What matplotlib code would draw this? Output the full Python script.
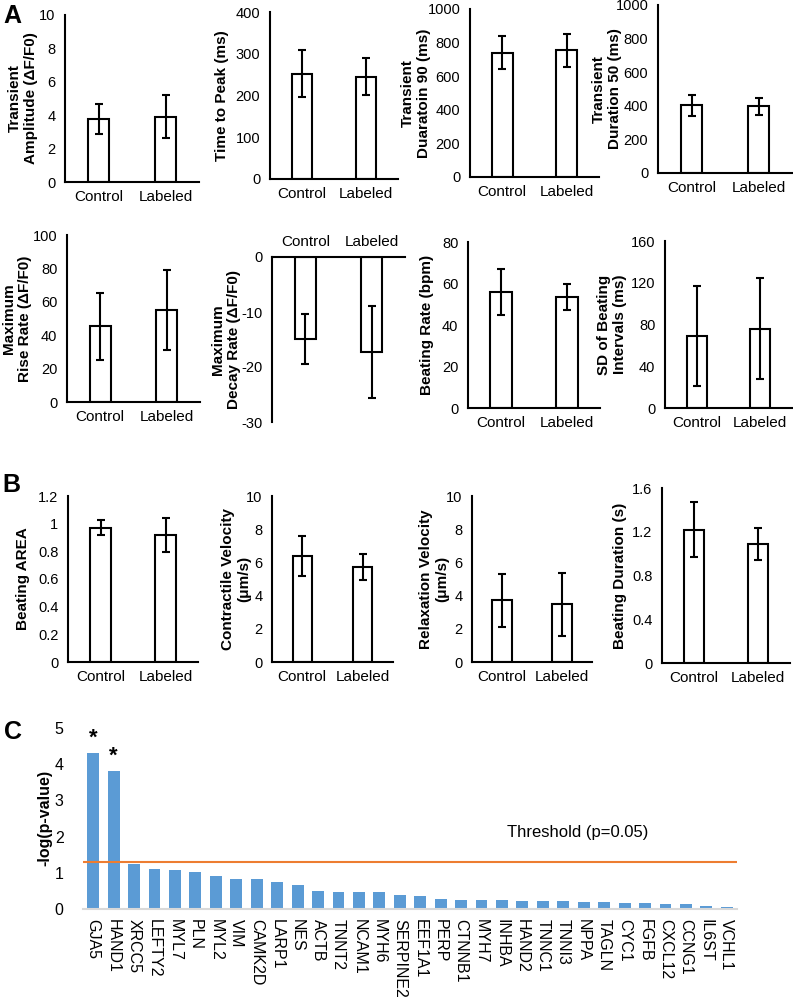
import matplotlib.pyplot as plt
import numpy as np

plt.rcParams['font.family'] = ['Liberation Sans', 'DejaVu Sans']

W, H = 793, 997

groups = ['Control', 'Labeled']

# panel A (mean, error)
amp_mean = [3.78, 3.92]
amp_err = [0.9, 1.3]
ttp_mean = [252, 245]
ttp_err = [56, 45]
d90_mean = [741, 755]
d90_err = [100, 98]
d50_mean = [402, 396]
d50_err = [62, 50]
rise_mean = [45.4, 55.0]
rise_err = [20, 24]
decay_mean = [-14.9, -17.3]
decay_err = [4.5, 8.3]
rate_mean = [56.0, 53.6]
rate_err = [11, 6.4]
sdint_mean = [68.8, 76.0]
sdint_err = [48, 48.5]

# panel B
area_mean = [0.971, 0.916]
area_err = [0.052, 0.124]
cvel_mean = [6.4, 5.72]
cvel_err = [1.2, 0.78]
rvel_mean = [3.73, 3.47]
rvel_err = [1.6, 1.9]
bdur_mean = [1.22, 1.089]
bdur_err = [0.255, 0.147]

# panel C
genes = ['GJA5', 'HAND1', 'XRCC5', 'LEFTY2', 'MYL7', 'PLN', 'MYL2', 'VIM',
         'CAMK2D', 'LARP1', 'NES', 'ACTB', 'TNNT2', 'NCAM1', 'MYH6', 'SERPINE2',
         'EEF1A1', 'PERP', 'CTNNB1', 'MYH7', 'INHBA', 'HAND2', 'TNNC1', 'TNNI3',
         'NPPA', 'TAGLN', 'CYC1', 'FGFB', 'CXCL12', 'CCNG1', 'IL6ST', 'VCHL1']
neglogp = [4.31, 3.81, 1.24, 1.10, 1.075, 1.01, 0.92, 0.84,
           0.82, 0.74, 0.65, 0.50, 0.47, 0.47, 0.46, 0.40,
           0.35, 0.28, 0.26, 0.26, 0.24, 0.22, 0.22, 0.21,
           0.20, 0.20, 0.17, 0.165, 0.13, 0.13, 0.08, 0.05]
significant = ['GJA5', 'HAND1']
threshold = 1.3

fig = plt.figure(figsize=(W / 100, H / 100), dpi=100)


def add_ax(rect):
    l, t, r, b = rect
    return fig.add_axes([l / W, 1 - b / H, (r - l) / W, (b - t) / H])


def bar_panel(rect, mean, err, ylim, step, ylabel, label_x, top_axis=False):
    ax = add_ax(rect)
    x = np.arange(len(groups))
    ax.bar(x, mean, width=0.32, color='white', edgecolor='black', linewidth=1.5, zorder=2)
    ax.errorbar(x, mean, yerr=err, fmt='none', ecolor='black', elinewidth=1.5,
                capsize=3, capthick=1.5, zorder=3)
    ax.set_xlim(-0.5, 1.5)
    ax.set_ylim(*ylim)
    ticks = np.arange(ylim[0], ylim[1] + step / 2, step)
    ax.set_yticks(ticks)
    ax.set_yticklabels([f'{round(v, 2):g}' for v in ticks], fontsize=10.5)
    ax.set_xticks(x)
    ax.set_xticklabels(groups, fontsize=11)
    ax.tick_params(axis='y', length=0, pad=7)
    ax.tick_params(axis='x', length=0, pad=6)
    for s in ['top', 'right', 'bottom', 'left']:
        ax.spines[s].set_linewidth(1.5)
    ax.spines['right'].set_visible(False)
    if top_axis:
        ax.xaxis.tick_top()
        ax.spines['bottom'].set_visible(False)
    else:
        ax.spines['top'].set_visible(False)
    l, t, r, b = rect
    fig.text(label_x / W, 1 - (t + b) / 2 / H, ylabel, rotation=90, ha='center',
             va='center', fontsize=11, fontweight='bold', multialignment='center')
    return ax


# panel A, row 1
bar_panel((65, 15, 199, 182), amp_mean, amp_err, (0, 10), 2,
          'Transient\nAmplitude (ΔF/F0)', 23)
bar_panel((270, 12, 398, 179), ttp_mean, ttp_err, (0, 400), 100,
          'Time to Peak (ms)', 222)
bar_panel((470, 9, 599, 177), d90_mean, d90_err, (0, 1000), 200,
          'Transient\nDuaratoin 90 (ms)', 416)
bar_panel((658, 5, 792, 173), d50_mean, d50_err, (0, 1000), 200,
          'Transient\nDuration 50 (ms)', 607)

# panel A, row 2
bar_panel((67, 235, 200, 402), rise_mean, rise_err, (0, 100), 20,
          'Maximum\nRise Rate (ΔF/F0)', 17)
bar_panel((272, 257, 405, 422), decay_mean, decay_err, (-30, 0), 10,
          'Maximum\nDecay Rate (ΔF/F0)', 226, top_axis=True)
bar_panel((468, 242, 600, 408), rate_mean, rate_err, (0, 80), 20,
          'Beating Rate (bpm)', 427)
bar_panel((665, 241, 792, 408), sdint_mean, sdint_err, (0, 160), 40,
          'SD of Beating\nIntervals (ms)', 612)

# panel B
bar_panel((68, 496, 198, 662), area_mean, area_err, (0, 1.2), 0.2,
          'Beating AREA', 23)
bar_panel((272, 496, 393, 662), cvel_mean, cvel_err, (0, 10), 2,
          'Contractile Velocity\n(μm/s)', 236)
bar_panel((472, 496, 592, 662), rvel_mean, rvel_err, (0, 10), 2,
          'Relaxation Velocity\n(μm/s)', 434)
bar_panel((662, 488, 790, 663), bdur_mean, bdur_err, (0, 1.6), 0.4,
          'Beating Duration (s)', 620)

# panel C
axc = add_ax((83, 728, 737, 909))
xc = np.arange(len(genes))
axc.bar(xc, neglogp, width=0.58, color='#5B9BD5', zorder=2)
axc.axhline(threshold, color='#ED7D31', linewidth=1.5, zorder=3)
for g in significant:
    i = genes.index(g)
    axc.text(i, neglogp[i] + 0.12, '*', ha='center', va='bottom', fontsize=16,
             fontweight='bold')
axc.text(0.757, 0.42, 'Threshold (p=0.05)', transform=axc.transAxes,
         ha='center', va='center', fontsize=12)
axc.set_xlim(-0.5, len(genes) - 0.5)
axc.set_ylim(0, 5)
axc.set_yticks(range(0, 6))
axc.set_yticklabels([str(v) for v in range(0, 6)], fontsize=11.5)
axc.set_xticks(xc)
axc.set_xticklabels(genes, rotation=-90, fontsize=11.5)
axc.tick_params(axis='y', length=0, pad=14)
axc.tick_params(axis='x', length=0, pad=7)
for s in ['top', 'right', 'left']:
    axc.spines[s].set_visible(False)
axc.spines['bottom'].set_color('#D9D9D9')
axc.spines['bottom'].set_linewidth(1.5)
fig.text(45 / W, 1 - 818 / H, '-log(p-value)', rotation=90, ha='center',
         va='center', fontsize=11.5, fontweight='bold')

# panel letters
fig.text(3 / W, 1 - 16 / H, 'A', fontsize=18, fontweight='bold', va='center')
fig.text(2 / W, 1 - 485 / H, 'B', fontsize=18, fontweight='bold', va='center')
fig.text(4 / W, 1 - 732 / H, 'C', fontsize=18, fontweight='bold', va='center')

fig.savefig('out.png', dpi=100)
